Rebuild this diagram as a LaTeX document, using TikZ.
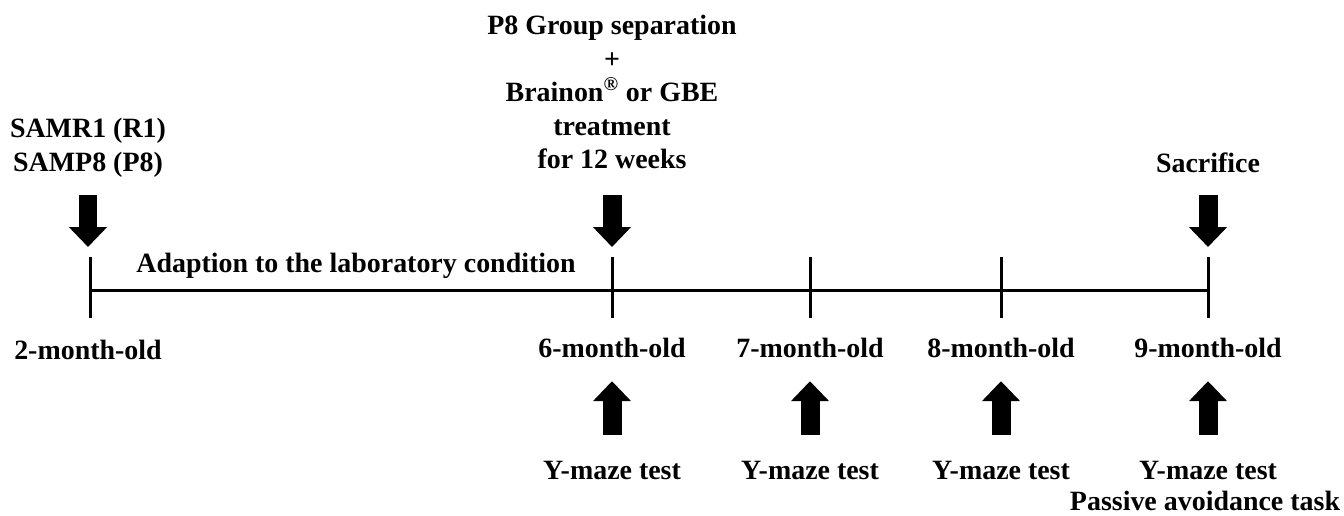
\documentclass[tikz,border=0pt]{standalone}
\usepackage{fontspec}
\setmainfont{Liberation Serif}
\usetikzlibrary{arrows.meta}
\usetikzlibrary{calc}

\tikzset{
    lbl/.style={font=\bfseries\fontsize{15.9}{19.1}\selectfont, align=center, inner sep=0pt},
    axis/.style={black, line width=0.06cm},
    bigarrow/.style={black, line width=0.38cm, -{Triangle[length=0.4cm,width=0.74cm]}}
}

\begin{document}
\begin{tikzpicture}[x=0.02cm, y=-0.02cm]
            \useasboundingbox (0,0) rectangle (1344,515);

            % ticks of the time line
            \coordinate (m2) at (90,290);
            \coordinate (m6) at (612,290);
            \coordinate (m7) at (810,290);
            \coordinate (m8) at (1001,290);
            \coordinate (m9) at (1208,290);

            \draw[axis] (m2) -- (m9);
            \foreach \m in {m2,m6,m7,m8,m9}
                \draw[axis] ($(\m)+(0,-33)$) coordinate (\m-top) -- ($(\m)+(0,28)$);

            % labels above
            \node[lbl] (start) at (88,148) {SAMR1 (R1)\\SAMP8 (P8)};
            \node[lbl] (treat) at (612,92) {P8 Group separation\\+\\Brainon\textsuperscript{\textregistered} or GBE\\treatment\\for 12 weeks};
            \node[lbl] (sacr) at (1208,163) {Sacrifice};
            \node[lbl] (adapt) at (356,266) {Adaption to the laboratory condition};

            % down arrows
            \coordinate (a2) at (88,195);
            \coordinate (a6) at (612,195);
            \coordinate (a9) at (1208,195);
            \draw[bigarrow] (a2) -- ($(m2-top)+(-2,-10)$);
            \draw[bigarrow] (a6) -- ($(m6-top)+(0,-10)$);
            \draw[bigarrow] (a9) -- ($(m9-top)+(0,-10)$);

            % ages
            \node[lbl] (age2) at (88,350) {2-month-old};
            \node[lbl] (age6) at (612,348) {6-month-old};
            \node[lbl] (age7) at (810,348) {7-month-old};
            \node[lbl] (age8) at (1001,348) {8-month-old};
            \node[lbl] (age9) at (1208,348) {9-month-old};

            % tests below
            \foreach \m/\x in {6/612,7/810,8/1001,9/1208} {
                \coordinate (b\m) at (\x,435);
                \node[lbl] (test\m) at (\x,470) {Y-maze test};
                \draw[bigarrow] (b\m) -- ($(age\m.south)+(0,23)$);
            }
            \node[lbl] (pat) at (1205,501) {Passive avoidance task};
        \end{tikzpicture}
\end{document}
